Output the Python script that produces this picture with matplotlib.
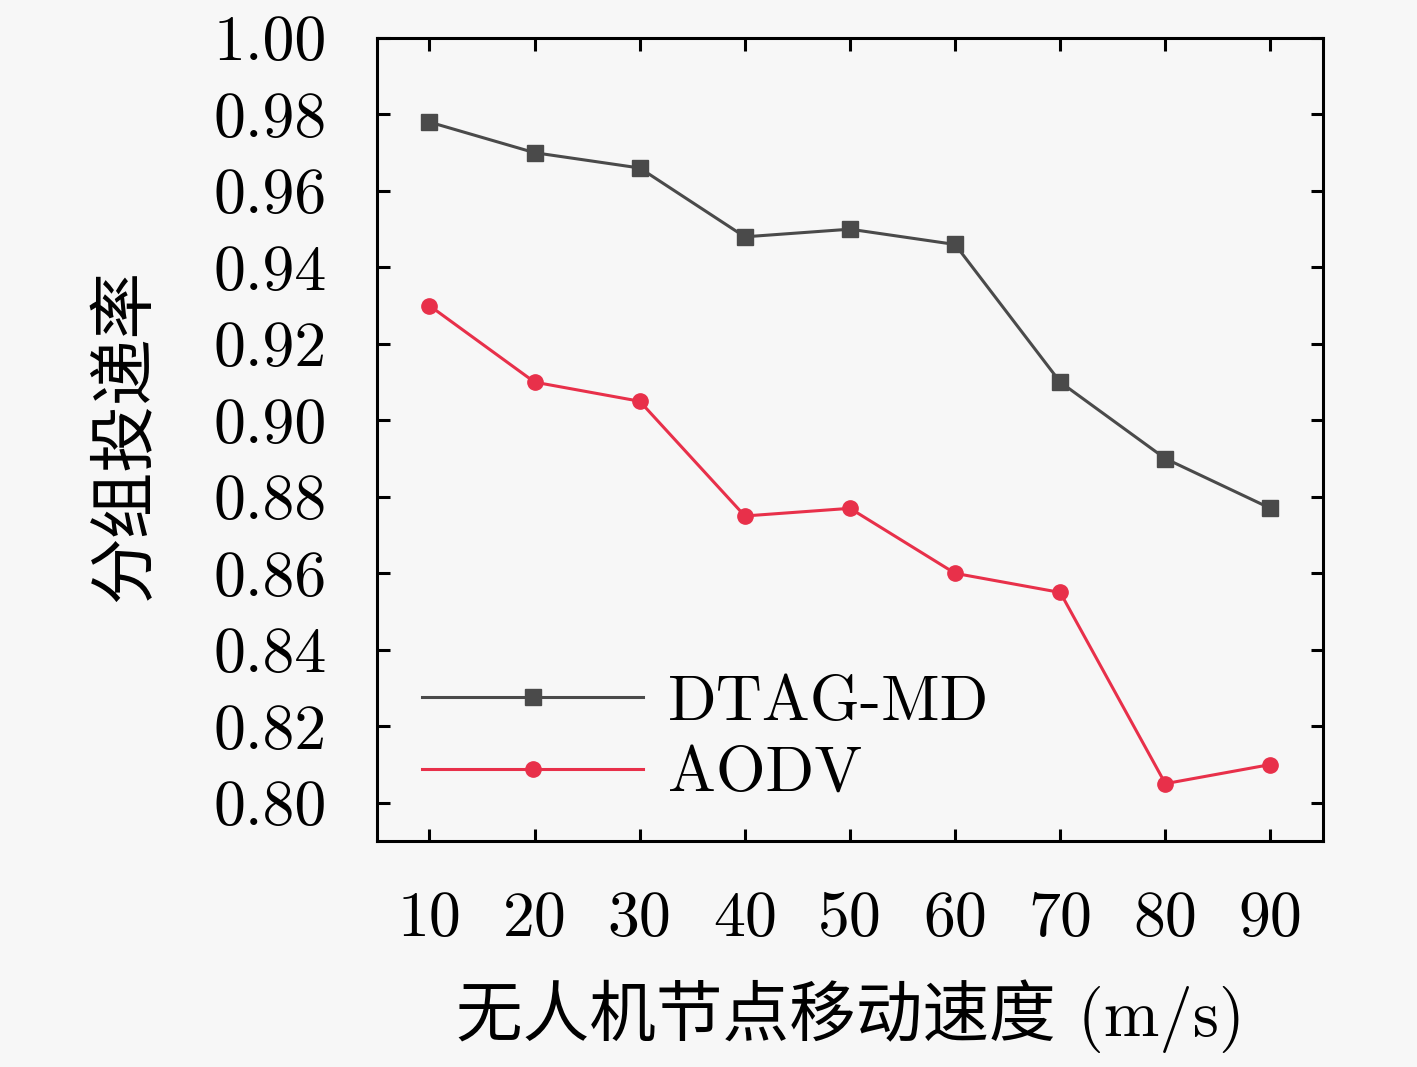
import numpy as np
import matplotlib
matplotlib.use("Agg")
import matplotlib.pyplot as plt

# data
speed = [10, 20, 30, 40, 50, 60, 70, 80, 90]
dtag_md = [0.978, 0.970, 0.966, 0.948, 0.950, 0.946, 0.910, 0.890, 0.877]
aodv = [0.930, 0.910, 0.905, 0.875, 0.877, 0.860, 0.855, 0.805, 0.810]
yticks = [0.80, 0.82, 0.84, 0.86, 0.88, 0.90, 0.92, 0.94, 0.96, 0.98, 1.00]

plt.rcParams['font.family'] = ['cmr10', 'Noto Sans CJK SC']
plt.rcParams['axes.unicode_minus'] = False
fs = 46
bg = '#f7f7f7'

fig = plt.figure(figsize=(14.17, 10.67), dpi=100, facecolor=bg)
ax = fig.add_axes([0.266, 0.2118, 0.9337 - 0.266, 0.9644 - 0.2118])
ax.set_facecolor(bg)

ax.plot(speed, dtag_md, color='#4a4a4a', lw=2.2, marker='s', ms=11, label='DTAG-MD')
ax.plot(speed, aodv, color='#e8304a', lw=2.2, marker='o', ms=11, label='AODV')

ax.set_xlim(5, 95)
ax.set_ylim(0.79, 1.00)
ax.set_xticks(speed)
ax.set_xticklabels([str(s) for s in speed])
ax.set_yticks(yticks)
ax.set_yticklabels(['%.2f' % v for v in yticks])

ax.tick_params(direction='in', top=True, right=True, length=9, width=2.2,
               labelsize=fs, pad=36)
for sp in ax.spines.values():
    sp.set_linewidth(2.2)

ax.set_xlabel('无人机节点移动速度 (m/s)', fontsize=48, va='top')
ax.xaxis.set_label_coords(0.5, -0.172)
ax.set_ylabel('分组投递率', fontsize=48)
ax.yaxis.set_label_coords(-0.232, 0.505)

ax.legend(loc='lower left', bbox_to_anchor=(0.048, 0.046), frameon=False,
          fontsize=fs, handlelength=3.45, handletextpad=0.4, labelspacing=0.21,
          borderpad=0, borderaxespad=0)

fig.savefig('out.png', dpi=100, facecolor=bg)
